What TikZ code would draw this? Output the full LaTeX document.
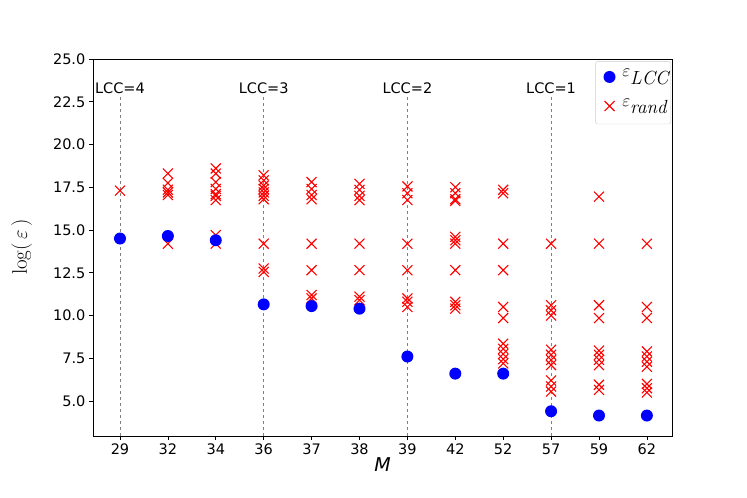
\documentclass[tikz,border=0pt]{standalone}
\usepackage{fontspec}
\setsansfont{DejaVu Sans}
\usetikzlibrary{positioning}
\begin{document}
\begin{tikzpicture}[
	x=47.9pt, y=17.1pt,
	font=\sffamily\fontsize{14.5}{17}\selectfont,
	rnd/.style={red, line width=1.1pt},
	dot/.style={circle, fill=blue, inner sep=0pt, minimum size=12pt},
	guide/.style={gray, dashed, line width=0.5pt},
	tick/.style={line width=0.6pt}
	]
	\def\xl{-0.564} \def\xr{11.524} \def\yb{2.95} \def\yt{25}
	\useasboundingbox (-2.505,-0.672) rectangle (13.09,28.45);
	% axes frame
	\draw[line width=0.8pt] (\xl,\yb) rectangle (\xr,\yt);
	% y ticks
	\foreach \v in {5.0,7.5,10.0,12.5,15.0,17.5,20.0,22.5,25.0} {
		\draw[tick] (\xl,\v) -- ++(-4pt,0) node[left] (yt\v) {\v};
	}
	% x ticks
	\foreach \m [count=\i from 0] in {29,32,34,36,37,38,39,42,52,57,59,62} {
		\draw[tick] (\i,\yb) -- ++(0,-4pt) node[below] (xt\m) {\m};
	}
	% guide lines
	\foreach \i/\k in {0/4,3/3,6/2,9/1} {
		\node (lcc\k) at (\i,23.3) {LCC=\k};
		\draw[guide] (\i,\yb) -- (lcc\k.south);
	}
	% random points
	\foreach \i/\v in {
		0/17.3,
		1/18.3,1/17.75,1/17.35,1/17.05,1/17.2,1/14.2,
		2/18.6,2/18.3,2/17.8,2/17.4,2/17.1,2/16.75,2/17.0,2/14.7,2/14.2,
		3/18.2,3/17.9,3/17.6,3/17.4,3/17.2,3/17.0,3/16.8,3/14.2,3/12.75,3/12.55,
		4/17.8,4/17.4,4/17.05,4/16.8,4/14.2,4/12.65,4/11.2,4/11.0,
		5/17.7,5/17.35,5/17.0,5/16.75,5/14.2,5/12.65,5/11.1,5/10.9,
		6/17.55,6/17.15,6/16.75,6/14.2,6/12.65,6/11.0,6/10.8,6/10.5,
		7/17.5,7/17.15,7/16.8,7/16.7,7/14.6,7/14.4,7/14.2,7/12.65,7/10.8,7/10.6,7/10.4,
		8/17.35,8/17.15,8/14.2,8/12.65,8/10.5,8/9.85,8/8.35,8/8.05,8/7.75,8/7.45,8/7.2,
		9/14.2,9/10.6,9/10.3,9/10.0,9/8.0,9/7.7,9/7.4,9/7.1,9/6.2,9/5.85,9/5.55,
		10/16.95,10/14.2,10/10.6,10/9.85,10/7.95,10/7.7,10/7.4,10/7.1,10/5.95,10/5.65,
		11/14.2,11/10.5,11/9.85,11/7.9,11/7.6,11/7.3,11/7.0,11/6.0,11/5.75,11/5.5} {
		\draw[rnd] (\i,\v) ++(-5pt,-5pt) -- ++(10pt,10pt) ++(-10pt,0) -- ++(10pt,-10pt);
	}
	% lcc points
	\foreach \i/\v in {0/14.5,1/14.65,2/14.4,3/10.65,4/10.55,5/10.4,6/7.6,7/6.6,8/6.6,9/4.4,10/4.15,11/4.15} {
		\node[dot] (p\i) at (\i,\v) {};
	}
	% legend
	\draw[rounded corners=2pt, gray!40, fill=white, fill opacity=0.8] (9.93,24.85) rectangle (11.5,21.2);
	\node[dot] (lgdot) at (10.22,23.95) {};
	\node[right=3pt of lgdot, font=\fontsize{19}{21}\selectfont] (lgtxt1) {$\varepsilon_{\textit{LCC}}$};
	\draw[rnd] (10.22,22.25) ++(-5pt,-5pt) -- ++(10pt,10pt) ++(-10pt,0) -- ++(10pt,-10pt);
	\node[right, font=\fontsize{19}{21}\selectfont] (lgtxt2) at ([xshift=3pt]lgdot.east |- 0,22.25) {$\varepsilon_{\textit{rand}}$};
	% axis labels
	\node[font=\sffamily\itshape\fontsize{19}{21}\selectfont] (xlab) at (5.48,1.3) {M};
	\node[rotate=90, font=\fontsize{21}{23}\selectfont] (ylab) at (-2.05,14) {$\log(\,\varepsilon\,)$};
\end{tikzpicture}
\end{document}
